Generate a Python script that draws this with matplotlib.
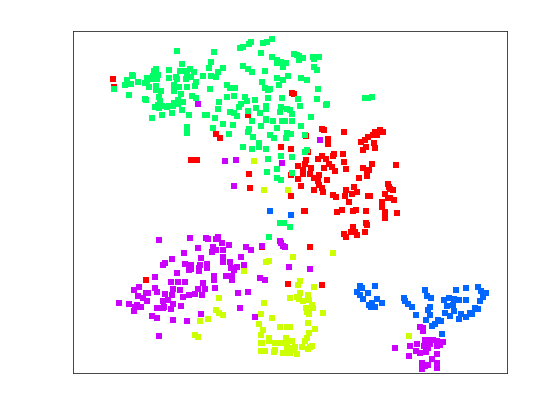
import numpy as np
import matplotlib
matplotlib.use('Agg')
import matplotlib.pyplot as plt

# point positions (x, y)
red = [(113,79),(114,87),(248,115),(216,134),(220,138),(191,160),(197,160),(281,147),(249,174),(250,188),
       (292,93),(294,94),(322,129),(324,130),(344,132),(380,130),(383,132),(378,132),(375,132),(373,135),
       (377,135),(368,137),(365,140),(361,142),(328,139),(328,144),(374,143),(375,148),(366,147),(363,150),
       (291,149),(308,152),(343,154),(334,154),(333,156),(322,156),(318,159),(326,159),(306,160),(305,164),
       (298,166),(329,164),(332,167),(335,171),(344,162),(346,169),(311,168),(324,168),(303,170),(303,174),
       (310,174),(319,175),(314,178),(318,181),(298,179),(291,175),(327,180),(319,185),(301,186),(322,188),
       (314,190),(323,192),(372,164),(396,165),(363,168),(369,170),(367,173),(367,176),(359,178),(346,190),
       (354,187),(352,194),(357,192),(345,196),(333,195),(336,197),(368,196),(370,196),(388,184),(389,187),
       (390,189),(393,190),(385,194),(388,198),(390,198),(394,200),(306,136),(291,196),(305,211),(304,211),
       (337,212),(342,210),(349,202),(353,211),(356,210),(366,211),(382,202),(382,207),(385,212),(397,213),
       (385,218),(366,223),(367,225),(353,227),(351,232),(344,234),(346,237),(355,232),(357,235),(365,232),
       (310,247),(322,285),(146,280),(262,247),(288,284)]

yellow = [(254,161),(264,190),(288,190),(266,262),(269,261),(244,271),(219,298),(264,303),(290,298),(216,310),
          (219,313),(223,315),(261,314),(208,319),(200,321),(272,318),(259,324),(263,330),(280,327),(287,327),
          (261,335),(195,335),(198,337),(269,338),(286,338),(262,343),(261,343),(269,341),(275,343),(281,343),
          (287,342),(287,348),(275,350),(274,352),(261,351),(265,351),(283,353),(288,353),(293,257),(333,253),
          (300,281),(298,285),(314,287),(300,293),(297,297),(308,295),(299,299),(303,301),(309,300),(312,305),
          (306,308),(313,308),(307,312),(309,314),(323,313),(308,323),(290,327),(315,329),(309,333),(307,338),
          (292,341),(305,341),(302,347),(295,347),(312,346),(310,347),(308,349),(291,348),(297,354),(290,353),
          (294,350),(409,336)]

green = [(177,51),(214,52),(240,48),(243,47),(249,44),(251,42),(263,43),(267,42),(272,39),(261,53),
         (272,57),(277,60),(281,62),(277,63),(286,63),(283,67),(211,62),(182,64),(209,68),(223,68),
         (243,66),(248,69),(252,72),(265,71),(169,70),(156,69),(154,71),(180,71),(185,71),(190,69),
         (194,72),(187,73),(218,72),(203,76),(211,76),(216,77),(176,77),(177,79),(169,78),(186,79),
         (191,77),(132,75),(133,76),(147,78),(153,76),(158,75),(157,79),(153,79),(127,80),(125,85),
         (131,84),(138,82),(147,83),(145,83),(149,87),(156,86),(156,90),(161,91),(196,82),(195,86),
         (174,85),(179,87),(187,87),(174,91),(181,94),(210,89),(227,85),(230,88),(235,88),(262,82),
         (265,88),(268,90),(270,89),(277,78),(283,80),(288,76),(279,85),(114,89),(129,95),(145,99),
         (146,100),(159,97),(160,101),(192,96),(196,98),(227,97),(234,96),(245,97),(268,98),(282,98),
         (255,100),(247,101),(241,104),(239,107),(219,102),(183,102),(178,100),(174,103),(178,104),(173,106),
         (169,106),(167,107),(162,106),(158,105),(155,107),(159,108),(182,110),(218,109),(256,108),(266,106),
         (266,109),(248,111),(260,113),(281,107),(280,112),(287,109),(290,110),(230,112),(234,113),(237,116),
         (205,115),(207,115),(189,115),(172,113),(162,115),(152,118),(215,118),(266,119),(266,120),(273,121),
         (282,121),(285,121),(252,121),(223,124),(233,125),(261,126),(187,127),(187,133),(213,128),(277,128),
         (249,129),(248,132),(229,134),(253,137),(270,135),(274,138),(287,133),(286,138),(259,143),(259,147),
         (243,147),(252,149),(266,149),(281,156),(268,159),(277,169),(267,172),(277,178),(281,180),
         (294,54),(297,55),(299,56),(299,60),(303,58),(313,57),(314,59),(319,57),(314,67),(317,70),
         (301,78),(307,80),(318,89),(298,99),(317,99),(300,106),(327,104),(326,105),(365,98),(368,98),
         (372,97),(292,114),(311,117),(292,121),(301,126),(291,134),(305,135),(307,150),(305,152),(292,157),
         (292,173),(280,223),(284,223),(290,227),(269,237)]

blue = [(291,215),(270,211),(360,286),(362,288),(375,286),(357,292),(368,293),(360,295),(363,299),(377,299),
        (382,303),(372,303),(369,305),(371,307),(375,307),(404,298),(405,301),(408,304),(412,307),(416,315),
        (425,290),(427,296),(431,298),(430,307),(428,310),(430,315),(426,320),(438,320),(441,321),(435,324),
        (432,326),(442,334),(456,290),(466,288),(478,287),(481,291),(486,293),(483,297),(480,301),(466,300),
        (459,300),(454,299),(449,298),(444,300),(447,306),(453,305),(454,311),(445,313),(450,316),(461,314),
        (466,317),(459,319),(470,313),(472,314),(475,308),(478,309)]

magenta = [(198,104),(225,161),(236,160),(282,163),(234,186),(320,140),(159,240),(190,238),(206,238),(208,239),
           (216,239),(218,237),(222,243),(229,245),(213,247),(216,250),(212,252),(223,250),(198,248),(184,253),
           (172,259),(165,263),(163,265),(223,257),(223,262),(241,257),(230,262),(185,264),(191,265),(189,270),
           (191,269),(201,258),(200,265),(199,268),(199,271),(207,264),(207,268),(231,268),(234,270),(237,267),
           (244,265),(246,247),(251,250),(262,246),(280,241),(281,243),(283,246),(285,247),(177,273),(155,277),
           (214,276),(214,280),(226,276),(232,276),(232,280),(171,282),(178,282),(185,282),(203,283),(260,278),
           (265,280),(139,287),(134,290),(155,288),(157,292),(148,293),(146,293),(165,294),(173,289),(180,290),
           (198,289),(205,289),(215,288),(238,293),(248,292),(189,295),(195,294),(202,295),(138,296),(143,298),
           (172,295),(183,297),(147,301),(163,301),(168,300),(119,303),(129,304),(137,305),(135,307),(141,307),
           (134,311),(173,304),(181,306),(157,308),(164,307),(163,308),(171,309),(240,308),(152,316),(157,318),
           (201,314),(173,320),(187,321),(255,317),(159,336),(289,267),(310,269),(420,327),(423,328),(423,331),
           (425,340),(430,340),(433,340),(437,341),(443,342),(440,345),(437,346),(430,344),(424,346),(417,344),
           (410,346),(395,348),(416,351),(420,353),(426,352),(428,348),(409,356),(437,354),(432,359),(422,363),
           (437,363),(428,365),(425,366),(422,369),(437,368)]

groups = [(red, '#ff0000'), (yellow, '#ccff00'), (green, '#00ff66'), (blue, '#0066ff'), (magenta, '#cc00ff')]

fig = plt.figure(figsize=(5.6, 4.2), dpi=100)
ax = fig.add_axes([73.4/560, 1 - 373.4/420, 433.2/560, 342.3/420])

for pts, col in groups:
    pts = np.array(pts)
    ax.scatter(pts[:, 0], pts[:, 1], s=19, marker='s', color=col, linewidths=0)

ax.set_xlim(73.4, 506.6)
ax.set_ylim(373.4, 31.1)
ax.set_xticks([])
ax.set_yticks([])
for s in ax.spines.values():
    s.set_linewidth(0.6)
    s.set_color('#262626')

fig.savefig('out.png', dpi=100)
